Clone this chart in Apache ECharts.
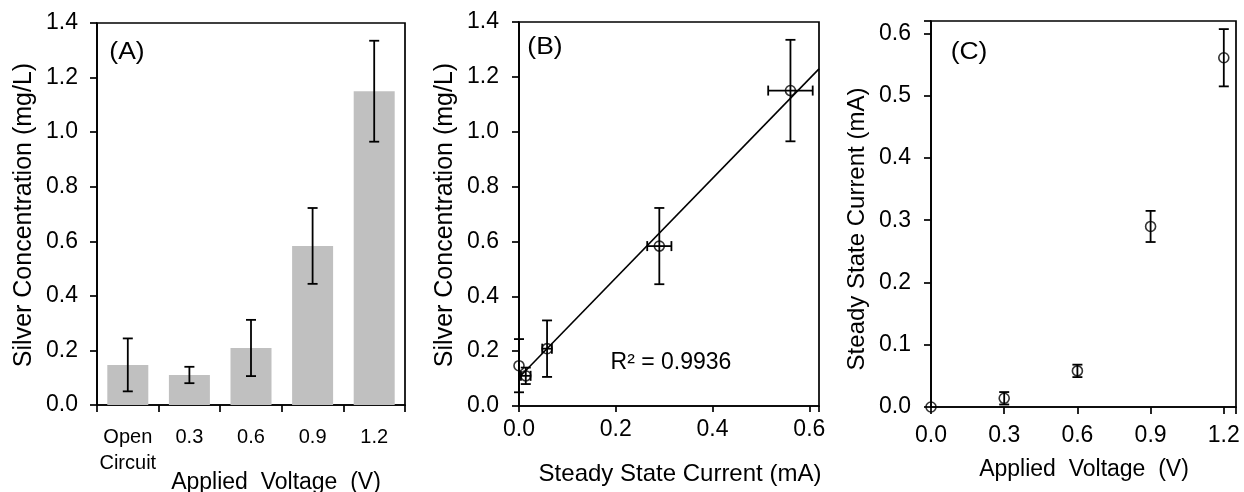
<!DOCTYPE html>
<html>
<head>
<meta charset="utf-8">
<script src="https://cdn.jsdelivr.net/npm/echarts@6/dist/echarts.min.js"></script>
<style>
html,body{margin:0;padding:0;background:#fff;}
#chart{width:1244px;height:492px;}
</style>
</head>
<body>
<div id="chart"></div>
<script>
// ---- data ----
const categories = ['Open\nCircuit', '0.3', '0.6', '0.9', '1.2'];
const voltage = [0, 0.3, 0.6, 0.9, 1.2];
const silverConc = [0.147, 0.110, 0.209, 0.583, 1.150];
const silverErr = [0.097, 0.030, 0.103, 0.139, 0.185];
const current = [0, 0.014, 0.058, 0.290, 0.561];
const currentErr = [0, 0.010, 0.010, 0.025, 0.046];
const trendX = [0, 0.62];
const trendY = [0.104, 1.229];
const rSquared = 'R² = 0.9936';

const FONT = "'Liberation Sans', Arial, sans-serif";
const BLACK = '#000';
const LW = 1.7;

function fmtTick(step) {
  return function (v) {
    const k = v / step;
    return Math.abs(k - Math.round(k)) < 1e-6 ? v.toFixed(1) : '';
  };
}

function vErr(params, api) {
  const x = api.value(0), y = api.value(1), e = api.value(2);
  if (!e) return null;
  const t = api.coord([x, y + e]);
  const b = api.coord([x, y - e]);
  const c = 5;
  const st = { stroke: BLACK, lineWidth: 1.8 };
  return { type: 'group', children: [
    { type: 'line', shape: { x1: t[0], y1: t[1], x2: b[0], y2: b[1] }, style: st },
    { type: 'line', shape: { x1: t[0] - c, y1: t[1], x2: t[0] + c, y2: t[1] }, style: st },
    { type: 'line', shape: { x1: b[0] - c, y1: b[1], x2: b[0] + c, y2: b[1] }, style: st }
  ]};
}
function hErr(params, api) {
  const x = api.value(0), y = api.value(1), e = api.value(2);
  if (!e) return null;
  const l = api.coord([x - e, y]);
  const r = api.coord([x + e, y]);
  const c = 5;
  const st = { stroke: BLACK, lineWidth: 1.8 };
  return { type: 'group', children: [
    { type: 'line', shape: { x1: l[0], y1: l[1], x2: r[0], y2: r[1] }, style: st },
    { type: 'line', shape: { x1: l[0], y1: l[1] - c, x2: l[0], y2: l[1] + c }, style: st },
    { type: 'line', shape: { x1: r[0], y1: r[1] - c, x2: r[0], y2: r[1] + c }, style: st }
  ]};
}

const axisLine = { show: true, onZero: false, lineStyle: { color: BLACK, width: LW } };
const axisTick = { show: true, length: 7, lineStyle: { color: BLACK, width: LW } };
const lbl = (extra) => Object.assign({ color: BLACK, fontSize: 23, fontFamily: FONT }, extra);

const grid = (l, t, w, h) => ({ left: l, top: t, width: w, height: h, show: true,
  borderColor: BLACK, borderWidth: LW, backgroundColor: 'transparent' });

const circle = { color: 'transparent', borderColor: BLACK, borderWidth: 1.6 };

function txt(x, y, text, size, opts) {
  return Object.assign({ type: 'text', x: x, y: y, z: 100,
    style: { text: text, font: size + 'px ' + FONT, fill: BLACK, align: 'center', verticalAlign: 'middle' } }, opts || {});
}

const option = {
  animation: false,
  backgroundColor: '#fff',
  grid: [grid(97, 23, 308, 382), grid(519, 22, 300, 384), grid(931, 21, 305, 386)],
  xAxis: [
    { gridIndex: 0, type: 'category', data: categories, boundaryGap: true,
      axisLine, axisTick: Object.assign({}, axisTick, { alignWithLabel: false }),
      axisLabel: lbl({ fontSize: 20, margin: 19, lineHeight: 26, interval: 0 }),
      splitLine: { show: false } },
    { gridIndex: 1, type: 'value', min: 0, max: 0.62, interval: 0.2,
      axisLine, axisTick: Object.assign({}, axisTick, { length: 6 }),
      axisLabel: lbl({ margin: 12, formatter: fmtTick(0.2) }), splitLine: { show: false } },
    { gridIndex: 2, type: 'value', min: 0, max: 1.25, interval: 0.3,
      axisLine, axisTick,
      axisLabel: lbl({ margin: 17, formatter: fmtTick(0.3) }), splitLine: { show: false } }
  ],
  yAxis: [
    { gridIndex: 0, type: 'value', min: 0, max: 1.4, interval: 0.2,
      axisLine, axisTick, axisLabel: lbl({ margin: 19, formatter: fmtTick(0.2) }), splitLine: { show: false } },
    { gridIndex: 1, type: 'value', min: 0, max: 1.4, interval: 0.2,
      axisLine, axisTick, axisLabel: lbl({ margin: 20, formatter: fmtTick(0.2) }), splitLine: { show: false } },
    { gridIndex: 2, type: 'value', min: 0, max: 0.62, interval: 0.1,
      axisLine, axisTick, axisLabel: lbl({ margin: 20, formatter: fmtTick(0.1) }), splitLine: { show: false } }
  ],
  series: [
    // Panel A
    { type: 'bar', xAxisIndex: 0, yAxisIndex: 0, data: silverConc, barWidth: 41,
      itemStyle: { color: '#c0c0c0' }, silent: true },
    { type: 'custom', xAxisIndex: 0, yAxisIndex: 0, renderItem: vErr, silent: true,
      encode: { x: 0, y: 1 }, clip: false,
      data: silverConc.map((v, i) => [i, v, silverErr[i]]), z: 5 },
    // Panel B
    { type: 'line', xAxisIndex: 1, yAxisIndex: 1, showSymbol: false, silent: true,
      lineStyle: { color: BLACK, width: 1.6 }, data: trendX.map((x, i) => [x, trendY[i]]), z: 3 },
    { type: 'custom', xAxisIndex: 1, yAxisIndex: 1, renderItem: vErr, silent: true, clip: false,
      encode: { x: 0, y: 1 }, data: current.map((x, i) => [x, silverConc[i], silverErr[i]]), z: 4 },
    { type: 'custom', xAxisIndex: 1, yAxisIndex: 1, renderItem: hErr, silent: true, clip: false,
      encode: { x: 0, y: 1 }, data: current.map((x, i) => [x, silverConc[i], currentErr[i]]), z: 4 },
    { type: 'scatter', xAxisIndex: 1, yAxisIndex: 1, symbol: 'circle', symbolSize: 10, clip: false,
      itemStyle: circle, silent: true, data: current.map((x, i) => [x, silverConc[i]]), z: 6 },
    // Panel C
    { type: 'custom', xAxisIndex: 2, yAxisIndex: 2, renderItem: vErr, silent: true, clip: false,
      encode: { x: 0, y: 1 }, data: voltage.map((x, i) => [x, current[i], currentErr[i]]), z: 4 },
    { type: 'scatter', xAxisIndex: 2, yAxisIndex: 2, symbol: 'circle', symbolSize: 10, clip: false,
      itemStyle: circle, silent: true, data: voltage.map((x, i) => [x, current[i]]), z: 6 }
  ],
  graphic: [
    txt(24, 215, 'Silver Concentration (mg/L)', 25, { rotation: Math.PI / 2 }),
    txt(445, 215, 'Silver Concentration (mg/L)', 25, { rotation: Math.PI / 2 }),
    txt(857, 229, 'Steady State Current (mA)', 24, { rotation: Math.PI / 2 }),
    txt(276, 483, 'Applied  Voltage  (V)', 23),
    txt(680, 474, 'Steady State Current (mA)', 24),
    txt(1084, 470, 'Applied  Voltage  (V)', 23),
    txt(127, 53, '(A)', 23, { scaleX: 1.15 }),
    txt(545, 48, '(B)', 23, { scaleX: 1.15 }),
    txt(969, 53, '(C)', 23, { scaleX: 1.15 }),
    txt(671, 363, rSquared, 23)
  ]
};

const chart = echarts.init(document.getElementById('chart'), null, { renderer: 'canvas' });
chart.setOption(option);
</script>
</body>
</html>
